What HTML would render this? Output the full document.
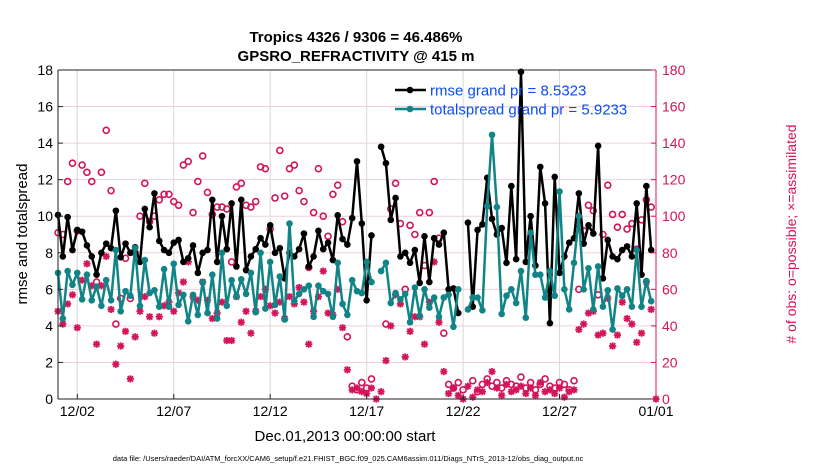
<!DOCTYPE html>
<html><head><meta charset="utf-8"><style>
body{margin:0;background:#fff;}
svg{display:block;font-family:"Liberation Sans",sans-serif;}
</style></head><body>
<svg id="chart" width="830" height="470" viewBox="0 0 830 470" xmlns="http://www.w3.org/2000/svg">
<rect width="830" height="470" fill="#fff"/>
<text x="356" y="42" text-anchor="middle" font-size="15" font-weight="bold">Tropics 4326 / 9306 = 46.486%</text>
<text x="356" y="61" text-anchor="middle" font-size="15" font-weight="bold">GPSRO_REFRACTIVITY @ 415 m</text>
<g id="grid"></g>
<g id="marks"></g>
<g id="axes"></g>
<text transform="translate(27,234) rotate(-90)" text-anchor="middle" font-size="15">rmse and totalspread</text>
<text transform="translate(796,234) rotate(-90)" text-anchor="middle" font-size="14" fill="#d4145a"># of obs: o=possible; ×=assimilated</text>
<text x="345" y="441" text-anchor="middle" font-size="15">Dec.01,2013 00:00:00 start</text>
<text x="348" y="461" text-anchor="middle" font-size="7.5">data file: /Users/raeder/DAI/ATM_forcXX/CAM6_setup/f.e21.FHIST_BGC.f09_025.CAM6assim.011/Diags_NTrS_2013-12/obs_diag_output.nc</text>
<g id="legend">
<line x1="395" y1="90" x2="426" y2="90" stroke="#000" stroke-width="2.5"/>
<circle cx="410" cy="90" r="3.3" fill="#000"/>
<text x="430" y="95.5" font-size="15" fill="#0a4cf5">rmse grand pr = 8.5323</text>
<line x1="395" y1="109" x2="426" y2="109" stroke="#108486" stroke-width="2.5"/>
<circle cx="410" cy="109" r="3.3" fill="#108486"/>
<text x="430" y="114.5" font-size="15" fill="#0a4cf5">totalspread grand pr = 5.9233</text>
</g>
</svg>
<script>
const xTickLabels=["12/02","12/07","12/12","12/17","12/22","12/27","01/01"];
const xTickDays=[1,6,11,16,21,26,31];
const yTicks=[0,2,4,6,8,10,12,14,16,18];
const y2Ticks=[0,20,40,60,80,100,120,140,160,180];
const rmse=[10.07,7.8,9.95,8.15,9.25,9.15,8.4,7.8,6.8,8.0,8.5,8.25,10.3,7.75,8.5,8.0,8.3,7.5,10.4,9.4,11.25,8.65,8.15,8.0,8.55,8.7,7.5,7.7,8.4,6.9,8.0,8.15,
10.9,7.5,10.0,8.2,10.7,7.25,10.9,7.05,7.8,8.2,8.8,8.45,9.5,8.0,8.25,6.6,8.0,7.8,8.2,9.05,7.25,7.8,9.2,8.2,8.55,7.6,10.05,8.75,8.45,9.9,13.0,9.6,
5.4,8.95,null,13.8,12.9,9.8,11.0,7.8,8.0,7.45,8.15,6.35,8.9,6.4,8.8,8.45,9.1,6.0,6.05,4.7,null,9.65,5.05,9.25,9.55,12.1,9.85,9.0,9.35,7.45,
11.65,7.65,17.9,7.5,10.0,7.3,12.7,10.7,4.15,12.15,6.9,7.8,8.55,8.8,11.25,8.5,9.5,9.05,13.85,6.6,8.7,7.8,7.65,8.15,8.35,7.8,10.7,6.8,11.65,8.15,null];
const spread=[6.9,4.4,7.0,6.25,6.9,5.45,6.8,5.4,6.15,5.1,6.5,5.4,8.15,4.8,5.9,5.65,8.25,5.1,7.6,5.8,5.95,5.05,7.1,5.05,7.4,5.15,5.7,4.25,5.7,4.6,6.4,4.7,
6.8,4.4,8.0,5.1,6.5,5.6,6.55,5.75,6.9,4.75,8.0,4.95,7.5,5.15,6.7,4.35,9.6,5.35,5.75,6.0,6.2,4.5,6.2,5.9,5.75,4.5,7.45,5.2,4.6,6.5,5.9,5.8,
7.5,6.4,null,7.0,7.45,5.25,5.8,5.45,5.75,4.2,6.1,4.55,6.0,5.0,5.55,4.5,5.55,5.7,3.95,6.0,null,4.9,5.55,5.55,4.85,10.55,14.45,10.5,4.65,5.65,
6.0,5.25,7.0,4.45,9.1,6.8,6.8,5.55,7.0,5.65,11.35,6.0,4.9,7.45,10.0,6.0,7.15,4.9,7.25,5.05,5.95,3.8,6.05,5.65,6.0,5.05,8.15,5.05,6.45,5.35,null];
const possible=[91,90,119,129,92,128,124,119,64,124,147,114,41,55,77,55,80,100,118,97,100,109,112,112,108,106,128,130,102,119,133,113,
101,105,105,104,75,116,118,106,105,108,127,126,93,110,136,111,126,128,114,108,72,102,126,100,89,112,117,97,34,
7,5,9,6,11,null,null,41,104,118,96,60,95,90,102,73,102,119,88,36,
8,6,9,5,null,10,4,8,11,7,9,6,10,8,7,12,6,9,5,8,11,7,6,9,8,5,10,
60,92,106,103,57,90,117,101,94,101,93,96,82,98,109,105,null];
const assimilated=[48,41,52,57,39,65,74,62,30,62,78,49,19,29,37,11,34,48,56,45,36,45,51,53,48,58,64,75,56,54,64,54,
44,47,53,32,32,56,42,48,36,48,56,60,51,47,53,44,56,52,61,53,30,48,56,70,47,46,60,39,16,
5,6,4,3,6,0,4,21,40,57,52,23,37,45,45,30,53,75,42,15,
3,6,2,0,7,1,5,4,9,15,6,2,8,4,5,7,3,6,2,9,4,5,3,6,1,4,5,
38,41,47,48,35,36,55,29,35,53,44,41,31,36,64,49,0];

const NS="http://www.w3.org/2000/svg";
const L=58,R=656,T=70,B=399,N=124;
const xs=i=>L+i*(R-L)/N;
const xd=d=>L+d*(R-L)/31;
const y1=v=>B-v*(B-T)/18;
const y2=v=>B-v*(B-T)/180;
const RED="#d4145a",TEAL="#108486";
function mk(tag,attrs,parent){const e=document.createElementNS(NS,tag);for(const k in attrs)e.setAttribute(k,attrs[k]);parent.appendChild(e);return e;}
const grid=document.getElementById('grid'),marks=document.getElementById('marks'),axes=document.getElementById('axes');
yTicks.forEach((t,k)=>{if(t>0&&t<18){const g=mk('line',{x1:L,x2:R,y1:y1(t),y2:y1(t),stroke:"#f2cfdc","stroke-width":1},grid);

}});
xTickDays.forEach((d,k)=>{const x=xd(d);
if(k<xTickDays.length-1){const g=mk('line',{x1:x,x2:x,y1:T,y2:B,stroke:"#d8d8d8","stroke-width":1},grid);

}
const t=mk('text',{x:x,y:416,"text-anchor":"middle","font-size":14},axes);t.textContent=xTickLabels[k];


mk('line',{x1:x,x2:x,y1:B,y2:B-5,stroke:"#222"},axes);});
// series lines
function drawLine(arr,color,name){let seg=[];const segs=[];arr.forEach((v,i)=>{if(v===null){if(seg.length)segs.push(seg);seg=[];}else seg.push([xs(i),y1(v)]);});if(seg.length)segs.push(seg);
segs.forEach(s=>{const p=mk('polyline',{points:s.map(q=>q.join(',')).join(' '),fill:"none",stroke:color,"stroke-width":2.5,"stroke-linejoin":"round"},marks);

});
arr.forEach((v,i)=>{if(v===null)return;const c=mk('circle',{cx:xs(i),cy:y1(v),r:3.3,fill:color},marks);

});}
// obs markers
assimilated.forEach((v,i)=>{if(v===null)return;const x=xs(i),y=y2(v),s=3.6;
const g=mk('g',{stroke:RED,"stroke-width":1.8},marks);


mk('line',{x1:x-s,x2:x+s,y1:y,y2:y},g);mk('line',{x1:x,x2:x,y1:y-s,y2:y+s},g);
mk('line',{x1:x-s*.75,x2:x+s*.75,y1:y-s*.75,y2:y+s*.75},g);mk('line',{x1:x-s*.75,x2:x+s*.75,y1:y+s*.75,y2:y-s*.75},g);});
possible.forEach((v,i)=>{if(v===null)return;const c=mk('circle',{cx:xs(i),cy:y2(v),r:3,fill:"none",stroke:RED,"stroke-width":1.6},marks);

});
drawLine(rmse,"#000","rmse");
drawLine(spread,TEAL,"totalspread");
// axes
mk('line',{x1:L,x2:R,y1:T,y2:T,stroke:"#222"},axes);
mk('line',{x1:L,x2:R,y1:B,y2:B,stroke:"#222"},axes);
mk('line',{x1:L,x2:L,y1:T,y2:B,stroke:"#222"},axes);
mk('line',{x1:R,x2:R,y1:T,y2:B,stroke:RED},axes);
yTicks.forEach(t=>{const y=y1(t);mk('line',{x1:L,x2:L+5,y1:y,y2:y,stroke:"#222"},axes);
const e=mk('text',{x:L-5,y:y+5,"text-anchor":"end","font-size":14},axes);e.textContent=t;

});
y2Ticks.forEach(t=>{const y=y2(t);mk('line',{x1:R-5,x2:R,y1:y,y2:y,stroke:RED},axes);
const e=mk('text',{x:R+6,y:y+5,"font-size":14,fill:RED},axes);e.textContent=t;

});
</script>
</body></html>
